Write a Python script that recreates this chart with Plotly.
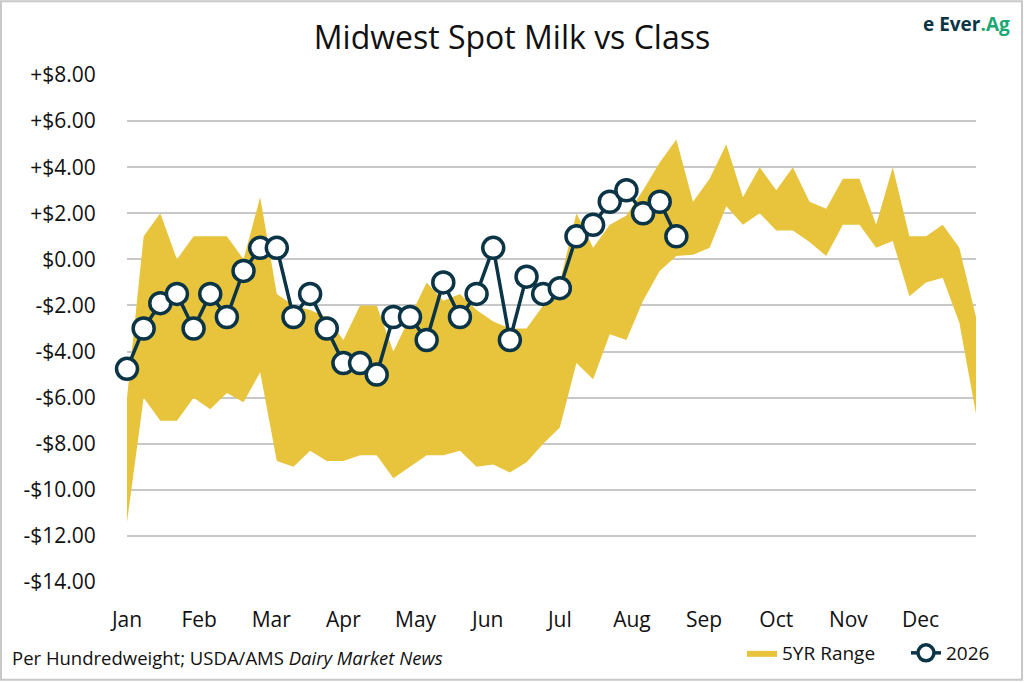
import plotly.graph_objects as go

# weekly index 1..52
weeks = list(range(1, 53))

# 5 year range (upper / lower), $ per cwt vs class
range_high = [-6.0, 1.0, 2.0, 0.0, 1.0, 1.0, 1.0, 0.0, 2.7, -1.5,
              -2.0, -2.2, -2.5, -3.5, -2.0, -2.0, -4.0, -2.5, -1.0, -1.8,
              -1.5, -2.2, -2.7, -3.0, -3.0, -2.0, -1.0, 2.0, 0.5, 1.5,
              1.9, 3.0, 4.2, 5.2, 2.5, 3.5, 5.0, 2.7, 4.0, 3.0,
              4.0, 2.5, 2.2, 3.5, 3.5, 1.5, 4.0, 1.0, 1.0, 1.5,
              0.5, -2.5]
range_low = [-11.4, -6.0, -7.0, -7.0, -6.0, -6.5, -5.8, -6.2, -4.9, -8.75,
             -9.0, -8.3, -8.75, -8.75, -8.5, -8.5, -9.5, -9.0, -8.5, -8.5,
             -8.3, -9.0, -8.9, -9.25, -8.8, -8.0, -7.3, -4.5, -5.2, -3.25,
             -3.5, -1.8, -0.5, 0.15, 0.2, 0.5, 2.3, 1.5, 2.0, 1.25,
             1.25, 0.75, 0.15, 1.5, 1.5, 0.5, 0.8, -1.6, -1.0, -0.8,
             -2.75, -6.7]

# 2026 so far
y2026 = [-4.75, -3.0, -1.9, -1.5, -3.0, -1.5, -2.5, -0.5, 0.5, 0.5,
         -2.5, -1.5, -3.0, -4.5, -4.5, -5.0, -2.5, -2.5, -3.5, -1.0,
         -2.5, -1.5, 0.5, -3.5, -0.75, -1.5, -1.25, 1.0, 1.5, 2.5,
         3.0, 2.0, 2.5, 1.0]

months = ['Jan', 'Feb', 'Mar', 'Apr', 'May', 'Jun',
          'Jul', 'Aug', 'Sep', 'Oct', 'Nov', 'Dec']
month_pos = [1 + 52 / 12 * i for i in range(12)]

y_ticks = [8, 6, 4, 2, 0, -2, -4, -6, -8, -10, -12, -14]
y_labels = ['+$8.00', '+$6.00', '+$4.00', '+$2.00', '$0.00', '-$2.00', '-$4.00',
            '-$6.00', '-$8.00', '-$10.00', '-$12.00', '-$14.00']

GOLD = '#E8C43C'
NAVY = '#0B3546'
FONT = 'Open Sans'

W, H = 1024, 683
ML, MR, MT, MB = 127, 48, 75, 100
pw, ph = W - ML - MR, H - MT - MB


def px_x(x):
    return (x - ML) / pw


def px_y(y):
    return (H - MB - y) / ph


fig = go.Figure()

fig.add_trace(go.Scatter(
    x=weeks, y=range_low, mode='lines', line=dict(width=0, color=GOLD),
    showlegend=False, hoverinfo='skip'
))
fig.add_trace(go.Scatter(
    x=weeks, y=range_high, mode='lines', line=dict(width=0, color=GOLD),
    fill='tonexty', fillcolor=GOLD, name='5YR Range', legend='legend'
))
fig.add_trace(go.Scatter(
    x=weeks[:len(y2026)], y=y2026, mode='lines+markers', name='2026',
    line=dict(color=NAVY, width=3.5),
    marker=dict(size=21, color='white', line=dict(color=NAVY, width=3.5)),
    cliponaxis=False, legend='legend2'
))

legend_style = dict(orientation='h', xanchor='left', yanchor='middle',
                    font=dict(size=19), bgcolor='rgba(0,0,0,0)')

fig.update_layout(
    width=W, height=H,
    margin=dict(l=ML, r=MR, t=MT, b=MB),
    paper_bgcolor='white', plot_bgcolor='white',
    font=dict(family=FONT, color='#111111', size=18),
    title=dict(text='Midwest Spot Milk vs Class', x=0.5, xanchor='center',
               y=1 - 38 / H, yanchor='middle', font=dict(size=32, color='#111111')),
    xaxis=dict(range=[1, 52], tickvals=month_pos, ticktext=months,
               showgrid=False, zeroline=False, showline=False,
               ticks='outside', ticklen=19, tickcolor='rgba(0,0,0,0)',
               tickfont=dict(size=21)),
    yaxis=dict(range=[-14, 8], tickvals=y_ticks, ticktext=y_labels,
               showgrid=True, gridcolor='#C8C8C8', gridwidth=1.5,
               zeroline=False, showline=False,
               ticks='outside', ticklen=26, tickcolor='rgba(0,0,0,0)',
               tickfont=dict(size=21)),
    legend=dict(legend_style, x=px_x(742), y=px_y(653)),
    legend2=dict(legend_style, x=px_x(906), y=px_y(653)),
    showlegend=True,
)

fig.add_annotation(
    text='Per Hundredweight; USDA/AMS <i>Dairy Market News</i>',
    xref='paper', yref='paper', x=px_x(10), y=px_y(659),
    xanchor='left', yanchor='middle', showarrow=False,
    font=dict(size=18.5, color='#111111')
)

# logo text
fig.add_annotation(
    text="<b><span style='color:#0B3546'>e Ever</span><span style='color:#1BA774'>.Ag</span></b>",
    xref='paper', yref='paper', x=px_x(1012), y=px_y(24),
    xanchor='right', yanchor='middle', showarrow=False,
    font=dict(size=19)
)

# thin grey frame round the picture
fig.add_shape(type='rect', xref='paper', yref='paper',
              x0=px_x(1), x1=px_x(1022), y0=px_y(681), y1=px_y(1),
              line=dict(color='#C8C8C8', width=2), fillcolor='rgba(0,0,0,0)', layer='below')

# drop the page margin so the figure sits at the window corner
fig.write_html("out.html", config={'displayModeBar': False},
               post_script="document.body.style.margin='0';")
